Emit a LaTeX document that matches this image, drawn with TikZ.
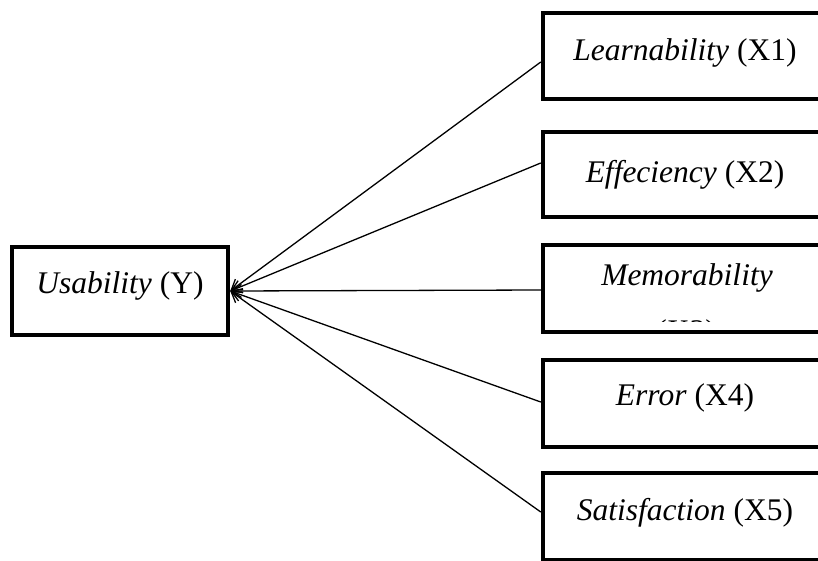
\documentclass[tikz,border=0pt]{standalone}
\usepackage{fontspec}
\setmainfont{Liberation Serif}
\usetikzlibrary{arrows.meta}
\tikzset{
  varbox/.style={draw=black, line width=4.5pt, rectangle, inner sep=0pt, minimum width=284pt, minimum height=87pt},
  ybox/.style={draw=black, line width=4.5pt, rectangle, inner sep=0pt, minimum width=216pt, minimum height=88pt},
  lbl/.style={inner sep=0pt, anchor=base, font=\fontsize{31.5}{38}\selectfont},
  conn/.style={line width=1.3pt, -{Straight Barb[length=10pt,width=13pt,line width=1.3pt]}}
}
\begin{document}
\begin{tikzpicture}[x=1pt,y=-1pt]
\clip (0,0) rectangle (818,560);
\fill[white] (0,0) rectangle (818,560);
% boxes
\node[ybox] (y) at (120,291) {};
\node[varbox, minimum height=86pt] (x1) at (685,56) {};
\node[varbox, minimum height=85pt] (x2) at (685,174.5) {};
\node[varbox] (x3) at (685,288.5) {};
\node[varbox] (x4) at (685,403.5) {};
\node[varbox] (x5) at (685,516.5) {};
% labels
\node[lbl] (ty) at (120,293) {\textit{Usability} (Y)};
\node[lbl] (t1) at (685,60) {\textit{Learnability} (X1)};
\node[lbl] (t2) at (685,182) {\textit{Effeciency} (X2)};
\node[lbl] (t3) at (687,285) {\textit{Memorability}};
\begin{scope}
\clip (600,300) rectangle (780,321.5);
\node[lbl] (t3b) at (686,341) {(X3)};
\end{scope}
\node[lbl] (t4) at (685,405) {\textit{Error} (X4)};
\node[lbl] (t5) at (685,520) {\textit{Satisfaction} (X5)};
% connectors
\draw[conn] ([yshift=-6pt]x1.west) -- (y.east);
\draw[conn] ([yshift=11.5pt]x2.west) -- (y.east);
\draw[conn] ([yshift=-1.5pt]x3.west) -- (y.east);
\draw[conn] ([yshift=1.5pt]x4.west) -- (y.east);
\draw[conn] ([yshift=4.5pt]x5.west) -- (y.east);
\end{tikzpicture}
\end{document}
